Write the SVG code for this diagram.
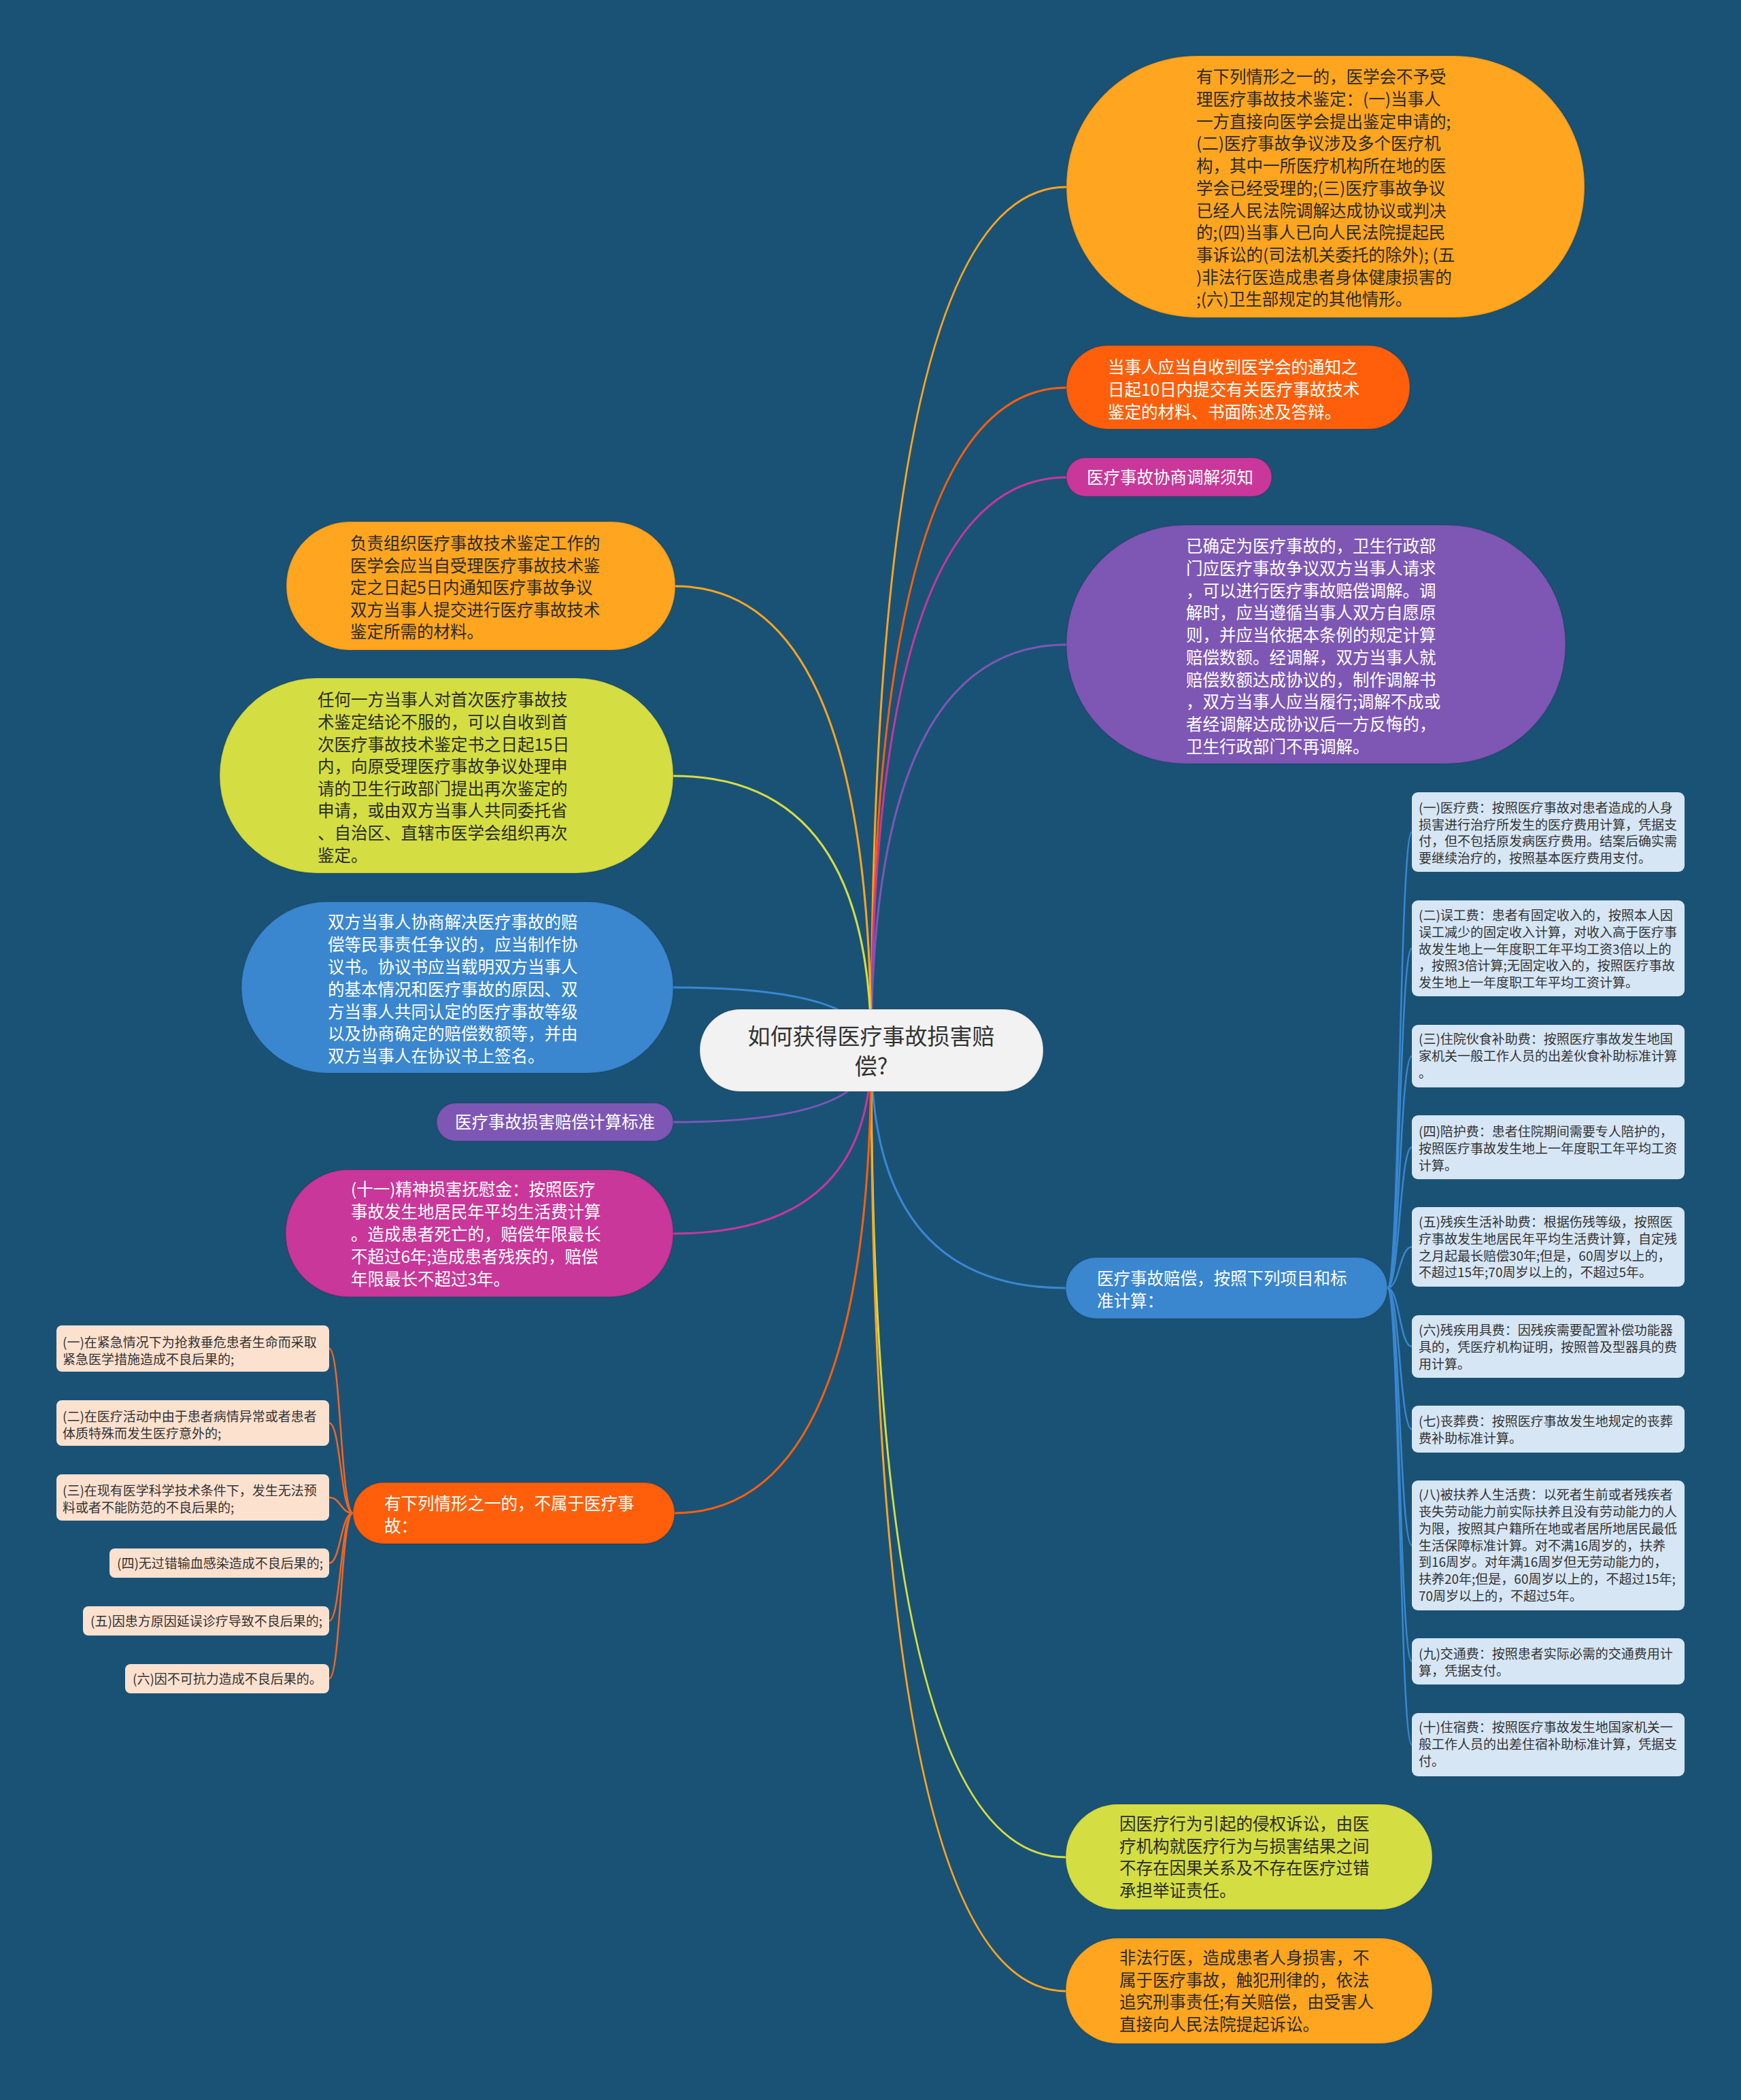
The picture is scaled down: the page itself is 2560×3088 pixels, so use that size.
<svg xmlns="http://www.w3.org/2000/svg" width="2560" height="3088" viewBox="0 0 2560 3088">
<style>
text{font-family:"Noto Sans CJK SC","Noto Sans",sans-serif}
.t{font-size:24.5px}
.s{font-size:19px;fill:#333}
.dk{fill:#2b2b2b}
.wh{fill:#ffffff}
.nd{stroke:rgba(0,0,0,0.12);stroke-width:2}
.c{fill:none;stroke-width:3}
.sc{fill:none;stroke-width:2.5}
.bb{fill:#d6e6f5}
.pb{fill:#fde1cf}
</style>
<rect width="2560" height="3088" fill="#1a5276"/>
<g id="connectors">
<path class="c" stroke="#ffa51f" d="M1281 1545 Q1281 275 1568 275"/>
<path class="c" stroke="#ff5f0a" d="M1281 1545 Q1281 570 1568 570"/>
<path class="c" stroke="#c9379a" d="M1281 1545 Q1281 702 1568 702"/>
<path class="c" stroke="#7e57b5" d="M1281 1545 Q1281 948 1568 948"/>
<path class="c" stroke="#3a87d0" d="M1281 1545 Q1281 1894 1567 1894"/>
<path class="c" stroke="#d4de42" d="M1281 1545 Q1281 2731 1567 2731"/>
<path class="c" stroke="#ffa51f" d="M1281 1545 Q1281 2928 1567 2928"/>
<path class="c" stroke="#ffa51f" d="M1281 1545 Q1281 862 993 862"/>
<path class="c" stroke="#d4de42" d="M1281 1545 Q1281 1141 990 1141"/>
<path class="c" stroke="#3a87d0" d="M1281 1545 Q1281 1452 990 1452"/>
<path class="c" stroke="#7e57b5" d="M1281 1545 Q1281 1650 990 1650"/>
<path class="c" stroke="#c9379a" d="M1281 1545 Q1281 1814 990 1814"/>
<path class="c" stroke="#ff5f0a" d="M1281 1545 Q1281 2225 992 2225"/>
<g stroke="#3a87d0">
<path class="sc" d="M2040 1894 C2058 1894 2058 1223.5 2076 1223.5"/>
<path class="sc" d="M2040 1894 C2058 1894 2058 1394.5 2076 1394.5"/>
<path class="sc" d="M2040 1894 C2058 1894 2058 1553 2076 1553"/>
<path class="sc" d="M2040 1894 C2058 1894 2058 1687 2076 1687"/>
<path class="sc" d="M2040 1894 C2058 1894 2058 1833.5 2076 1833.5"/>
<path class="sc" d="M2040 1894 C2058 1894 2058 1980 2076 1980"/>
<path class="sc" d="M2040 1894 C2058 1894 2058 2101.5 2076 2101.5"/>
<path class="sc" d="M2040 1894 C2058 1894 2058 2272.5 2076 2272.5"/>
<path class="sc" d="M2040 1894 C2058 1894 2058 2443 2076 2443"/>
<path class="sc" d="M2040 1894 C2058 1894 2058 2565.5 2076 2565.5"/>
</g>
<g stroke="#f26522">
<path class="sc" d="M519 2225 C501 2225 501 1983 484 1983"/>
<path class="sc" d="M519 2225 C501 2225 501 2092.5 484 2092.5"/>
<path class="sc" d="M519 2225 C501 2225 501 2202 484 2202"/>
<path class="sc" d="M519 2225 C501 2225 501 2298.5 484 2298.5"/>
<path class="sc" d="M519 2225 C501 2225 501 2383.5 484 2383.5"/>
<path class="sc" d="M519 2225 C501 2225 501 2468.5 484 2468.5"/>
</g>
</g>

<g id="center">
<rect class="nd" x="1029" y="1484" width="505" height="121" rx="60" fill="#f2f2f2"/>
<text font-size="33" fill="#333" text-anchor="middle"><tspan x="1281" y="1535.5">如何获得医疗事故损害赔</tspan><tspan x="1281" y="1579.5">偿?</tspan></text>
</g>

<g id="n1">
<rect class="nd" x="1568" y="82" width="762" height="385" rx="192" fill="#ffa51f"/>
<text class="t dk"><tspan x="1759" y="122.3">有下列情形之一的，医学会不予受</tspan><tspan x="1759" y="155">理医疗事故技术鉴定：(一)当事人</tspan><tspan x="1759" y="187.7">一方直接向医学会提出鉴定申请的;</tspan><tspan x="1759" y="220.4">(二)医疗事故争议涉及多个医疗机</tspan><tspan x="1759" y="253.1">构，其中一所医疗机构所在地的医</tspan><tspan x="1759" y="285.8">学会已经受理的;(三)医疗事故争议</tspan><tspan x="1759" y="318.5">已经人民法院调解达成协议或判决</tspan><tspan x="1759" y="351.2">的;(四)当事人已向人民法院提起民</tspan><tspan x="1759" y="383.9">事诉讼的(司法机关委托的除外); (五</tspan><tspan x="1759" y="416.6">)非法行医造成患者身体健康损害的</tspan><tspan x="1759" y="449.3">;(六)卫生部规定的其他情形。</tspan></text>
</g>

<g id="n2">
<rect class="nd" x="1568" y="508" width="505" height="123" rx="61" fill="#ff5f0a"/>
<text class="t wh"><tspan x="1629" y="549.3">当事人应当自收到医学会的通知之</tspan><tspan x="1629" y="582">日起10日内提交有关医疗事故技术</tspan><tspan x="1629" y="614.7">鉴定的材料、书面陈述及答辩。</tspan></text>
</g>

<g id="n3">
<rect class="nd" x="1568" y="673" width="302" height="57" rx="28" fill="#c9379a"/>
<text class="t wh" x="1598" y="711.3">医疗事故协商调解须知</text>
</g>

<g id="n4">
<rect class="nd" x="1568" y="772" width="734" height="351" rx="175" fill="#7e57b5"/>
<text class="t wh"><tspan x="1744" y="812.3">已确定为医疗事故的，卫生行政部</tspan><tspan x="1744" y="845">门应医疗事故争议双方当事人请求</tspan><tspan x="1744" y="877.7">，可以进行医疗事故赔偿调解。调</tspan><tspan x="1744" y="910.4">解时，应当遵循当事人双方自愿原</tspan><tspan x="1744" y="943.1">则，并应当依据本条例的规定计算</tspan><tspan x="1744" y="975.8">赔偿数额。经调解，双方当事人就</tspan><tspan x="1744" y="1008.5">赔偿数额达成协议的，制作调解书</tspan><tspan x="1744" y="1041.2">，双方当事人应当履行;调解不成或</tspan><tspan x="1744" y="1073.9">者经调解达成协议后一方反悔的，</tspan><tspan x="1744" y="1106.6">卫生行政部门不再调解。</tspan></text>
</g>

<g id="n5">
<rect class="nd" x="1567" y="1849" width="473" height="90" rx="45" fill="#3a87d0"/>
<text class="t wh"><tspan x="1613" y="1889.3">医疗事故赔偿，按照下列项目和标</tspan><tspan x="1613" y="1922.3">准计算：</tspan></text>
</g>

<g id="b1">
<rect class="bb" x="2076" y="1165" width="401" height="117" rx="9"/>
<text class="s"><tspan x="2086" y="1195.2">(一)医疗费：按照医疗事故对患者造成的人身</tspan><tspan x="2086" y="1219.8">损害进行治疗所发生的医疗费用计算，凭据支</tspan><tspan x="2086" y="1244.4">付，但不包括原发病医疗费用。结案后确实需</tspan><tspan x="2086" y="1269">要继续治疗的，按照基本医疗费用支付。</tspan></text>
</g>
<g id="b2">
<rect class="bb" x="2076" y="1324" width="401" height="141" rx="9"/>
<text class="s"><tspan x="2086" y="1353.2">(二)误工费：患者有固定收入的，按照本人因</tspan><tspan x="2086" y="1377.9">误工减少的固定收入计算，对收入高于医疗事</tspan><tspan x="2086" y="1402.6">故发生地上一年度职工年平均工资3倍以上的</tspan><tspan x="2086" y="1427.3">，按照3倍计算;无固定收入的，按照医疗事故</tspan><tspan x="2086" y="1452">发生地上一年度职工年平均工资计算。</tspan></text>
</g>
<g id="b3">
<rect class="bb" x="2076" y="1507" width="401" height="92" rx="9"/>
<text class="s"><tspan x="2086" y="1535.2">(三)住院伙食补助费：按照医疗事故发生地国</tspan><tspan x="2086" y="1559.9">家机关一般工作人员的出差伙食补助标准计算</tspan><tspan x="2086" y="1584.6">。</tspan></text>
</g>
<g id="b4">
<rect class="bb" x="2076" y="1640" width="401" height="94" rx="9"/>
<text class="s"><tspan x="2086" y="1671.2">(四)陪护费：患者住院期间需要专人陪护的，</tspan><tspan x="2086" y="1695.9">按照医疗事故发生地上一年度职工年平均工资</tspan><tspan x="2086" y="1720.6">计算。</tspan></text>
</g>
<g id="b5">
<rect class="bb" x="2076" y="1775" width="401" height="117" rx="9"/>
<text class="s"><tspan x="2086" y="1804.2">(五)残疾生活补助费：根据伤残等级，按照医</tspan><tspan x="2086" y="1828.9">疗事故发生地居民年平均生活费计算，自定残</tspan><tspan x="2086" y="1853.6">之月起最长赔偿30年;但是，60周岁以上的，</tspan><tspan x="2086" y="1878.3">不超过15年;70周岁以上的，不超过5年。</tspan></text>
</g>
<g id="b6">
<rect class="bb" x="2076" y="1934" width="401" height="92" rx="9"/>
<text class="s"><tspan x="2086" y="1963.2">(六)残疾用具费：因残疾需要配置补偿功能器</tspan><tspan x="2086" y="1987.9">具的，凭医疗机构证明，按照普及型器具的费</tspan><tspan x="2086" y="2012.6">用计算。</tspan></text>
</g>
<g id="b7">
<rect class="bb" x="2076" y="2067" width="401" height="69" rx="9"/>
<text class="s"><tspan x="2086" y="2097.2">(七)丧葬费：按照医疗事故发生地规定的丧葬</tspan><tspan x="2086" y="2121.9">费补助标准计算。</tspan></text>
</g>
<g id="b8">
<rect class="bb" x="2076" y="2177" width="401" height="191" rx="9"/>
<text class="s"><tspan x="2086" y="2205.2">(八)被扶养人生活费：以死者生前或者残疾者</tspan><tspan x="2086" y="2230">丧失劳动能力前实际扶养且没有劳动能力的人</tspan><tspan x="2086" y="2254.8">为限，按照其户籍所在地或者居所地居民最低</tspan><tspan x="2086" y="2279.6">生活保障标准计算。对不满16周岁的，扶养</tspan><tspan x="2086" y="2304.4">到16周岁。对年满16周岁但无劳动能力的，</tspan><tspan x="2086" y="2329.2">扶养20年;但是，60周岁以上的，不超过15年;</tspan><tspan x="2086" y="2354">70周岁以上的，不超过5年。</tspan></text>
</g>
<g id="b9">
<rect class="bb" x="2076" y="2409" width="401" height="68" rx="9"/>
<text class="s"><tspan x="2086" y="2439.2">(九)交通费：按照患者实际必需的交通费用计</tspan><tspan x="2086" y="2463.9">算，凭据支付。</tspan></text>
</g>
<g id="b10">
<rect class="bb" x="2076" y="2519" width="401" height="93" rx="9"/>
<text class="s"><tspan x="2086" y="2547.2">(十)住宿费：按照医疗事故发生地国家机关一</tspan><tspan x="2086" y="2571.9">般工作人员的出差住宿补助标准计算，凭据支</tspan><tspan x="2086" y="2596.6">付。</tspan></text>
</g>

<g id="n6">
<rect class="nd" x="1567" y="2653" width="539" height="155" rx="77" fill="#d4de42"/>
<text class="t dk"><tspan x="1646" y="2690.8">因医疗行为引起的侵权诉讼，由医</tspan><tspan x="1646" y="2723.5">疗机构就医疗行为与损害结果之间</tspan><tspan x="1646" y="2756.2">不存在因果关系及不存在医疗过错</tspan><tspan x="1646" y="2788.9">承担举证责任。</tspan></text>
</g>

<g id="n7">
<rect class="nd" x="1567" y="2850" width="539" height="155" rx="77" fill="#ffa51f"/>
<text class="t dk"><tspan x="1646" y="2888">非法行医，造成患者人身损害，不</tspan><tspan x="1646" y="2920.7">属于医疗事故，触犯刑律的，依法</tspan><tspan x="1646" y="2953.4">追究刑事责任;有关赔偿，由受害人</tspan><tspan x="1646" y="2986.1">直接向人民法院提起诉讼。</tspan></text>
</g>

<g id="n8">
<rect class="nd" x="421" y="767" width="572" height="189" rx="94" fill="#ffa51f"/>
<text class="t dk"><tspan x="515" y="808.3">负责组织医疗事故技术鉴定工作的</tspan><tspan x="515" y="840.8">医学会应当自受理医疗事故技术鉴</tspan><tspan x="515" y="873.3">定之日起5日内通知医疗事故争议</tspan><tspan x="515" y="905.8">双方当事人提交进行医疗事故技术</tspan><tspan x="515" y="938.3">鉴定所需的材料。</tspan></text>
</g>

<g id="n9">
<rect class="nd" x="323" y="997" width="667" height="287" rx="143" fill="#d4de42"/>
<text class="t dk"><tspan x="467" y="1038.3">任何一方当事人对首次医疗事故技</tspan><tspan x="467" y="1070.9">术鉴定结论不服的，可以自收到首</tspan><tspan x="467" y="1103.5">次医疗事故技术鉴定书之日起15日</tspan><tspan x="467" y="1136.1">内，向原受理医疗事故争议处理申</tspan><tspan x="467" y="1168.7">请的卫生行政部门提出再次鉴定的</tspan><tspan x="467" y="1201.3">申请，或由双方当事人共同委托省</tspan><tspan x="467" y="1233.9">、自治区、直辖市医学会组织再次</tspan><tspan x="467" y="1266.5">鉴定。</tspan></text>
</g>

<g id="n10">
<rect class="nd" x="355" y="1326" width="635" height="252" rx="126" fill="#3a87d0"/>
<text class="t wh"><tspan x="482" y="1365.3">双方当事人协商解决医疗事故的赔</tspan><tspan x="482" y="1398.1">偿等民事责任争议的，应当制作协</tspan><tspan x="482" y="1430.9">议书。协议书应当载明双方当事人</tspan><tspan x="482" y="1463.7">的基本情况和医疗事故的原因、双</tspan><tspan x="482" y="1496.5">方当事人共同认定的医疗事故等级</tspan><tspan x="482" y="1529.3">以及协商确定的赔偿数额等，并由</tspan><tspan x="482" y="1562.1">双方当事人在协议书上签名。</tspan></text>
</g>

<g id="n12">
<rect class="nd" x="642" y="1622" width="348" height="56" rx="28" fill="#7e57b5"/>
<text class="t wh" x="669" y="1659.3">医疗事故损害赔偿计算标准</text>
</g>

<g id="n13">
<rect class="nd" x="420" y="1720" width="570" height="187" rx="93" fill="#c9379a"/>
<text class="t wh"><tspan x="516" y="1758.3">(十一)精神损害抚慰金：按照医疗</tspan><tspan x="516" y="1791.3">事故发生地居民年平均生活费计算</tspan><tspan x="516" y="1824.3">。造成患者死亡的，赔偿年限最长</tspan><tspan x="516" y="1857.3">不超过6年;造成患者残疾的，赔偿</tspan><tspan x="516" y="1890.3">年限最长不超过3年。</tspan></text>
</g>

<g id="n14">
<rect class="nd" x="519" y="2180" width="473" height="90" rx="45" fill="#ff5f0a"/>
<text class="t wh"><tspan x="565" y="2220.3">有下列情形之一的，不属于医疗事</tspan><tspan x="565" y="2253.3">故：</tspan></text>
</g>

<g id="pa">
<rect class="pb" x="83" y="1949" width="401" height="68" rx="8"/>
<text class="s"><tspan x="92" y="1981.2">(一)在紧急情况下为抢救垂危患者生命而采取</tspan><tspan x="92" y="2005.8">紧急医学措施造成不良后果的;</tspan></text>
</g>
<g id="pb">
<rect class="pb" x="83" y="2059" width="401" height="67" rx="8"/>
<text class="s"><tspan x="92" y="2090.2">(二)在医疗活动中由于患者病情异常或者患者</tspan><tspan x="92" y="2114.8">体质特殊而发生医疗意外的;</tspan></text>
</g>
<g id="pc">
<rect class="pb" x="83" y="2168" width="401" height="68" rx="8"/>
<text class="s"><tspan x="92" y="2199.2">(三)在现有医学科学技术条件下，发生无法预</tspan><tspan x="92" y="2223.8">料或者不能防范的不良后果的;</tspan></text>
</g>
<g id="pd">
<rect class="pb" x="161" y="2277" width="323" height="43" rx="8"/>
<text class="s" x="172" y="2306">(四)无过错输血感染造成不良后果的;</text>
</g>
<g id="pe">
<rect class="pb" x="122" y="2362" width="362" height="43" rx="8"/>
<text class="s" x="133" y="2391">(五)因患方原因延误诊疗导致不良后果的;</text>
</g>
<g id="pf">
<rect class="pb" x="184" y="2447" width="300" height="43" rx="8"/>
<text class="s" x="195" y="2476">(六)因不可抗力造成不良后果的。</text>
</g>
</svg>
